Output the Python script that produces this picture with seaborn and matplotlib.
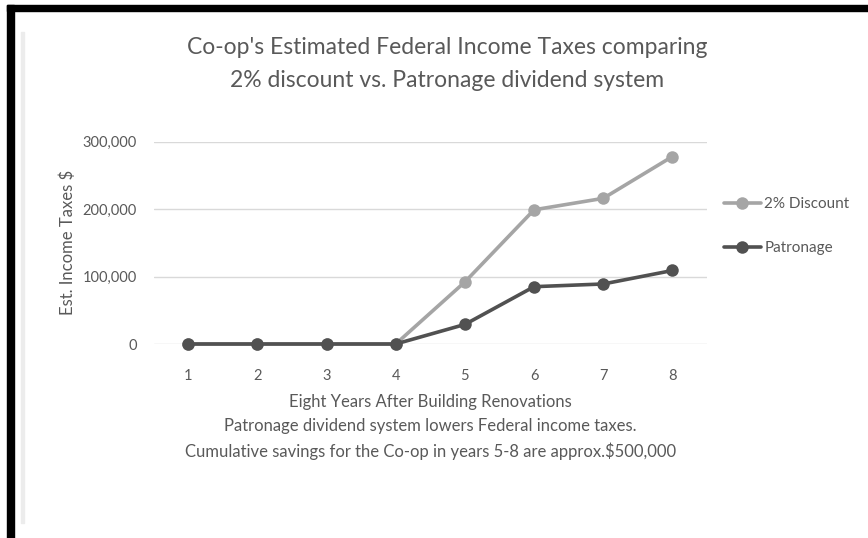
import matplotlib
matplotlib.use("Agg")
import matplotlib.pyplot as plt
import seaborn as sns
import pandas as pd
from matplotlib.patches import Rectangle
from matplotlib.lines import Line2D

years = [1, 2, 3, 4, 5, 6, 7, 8]
discount = [0, 0, 0, 0, 92000, 199000, 216000, 278000]
patronage = [0, 0, 0, 0, 29000, 85000, 89000, 109000]
series_names = ["2% Discount", "Patronage"]
y_ticks = [0, 100000, 200000, 300000]
y_tick_labels = ["0", "100,000", "200,000", "300,000"]

title = "Co-op's Estimated Federal Income Taxes comparing\n2% discount vs. Patronage dividend system"
x_label = ("Eight Years After Building Renovations\n"
           "Patronage dividend system lowers Federal income taxes.\n"
           "Cumulative savings for the Co-op in years 5-8 are approx.$500,000")
y_label = "Est. Income Taxes $"

df = pd.DataFrame({
    "Year": years * 2,
    "Tax": discount + patronage,
    "Series": [series_names[0]] * len(years) + [series_names[1]] * len(years),
})

sns.set_theme(style="white")
plt.rcParams["font.family"] = ["Lato", "DejaVu Sans"]

TXT = "#595959"
colors = {series_names[0]: "#a5a5a5", series_names[1]: "#515151"}

W, H = 868, 538
fig = plt.figure(figsize=(W / 100, H / 100), dpi=100)
fig.patch.set_facecolor("white")

left, right, top, bottom = 153.6, 707.0, 141.7, 344.0
ax = fig.add_axes([left / W, 1 - bottom / H, (right - left) / W, (bottom - top) / H])

sns.lineplot(data=df, x="Year", y="Tax", hue="Series", palette=colors,
             marker="o", markersize=9, markeredgewidth=0, linewidth=2.6,
             ax=ax, legend=False, clip_on=False, zorder=3)

ax.set_xlim(0.5, 8.5)
ax.set_ylim(0, 300000)
ax.set_xticks(years)
ax.set_xticklabels([str(y) for y in years])
ax.set_yticks(y_ticks)
ax.set_yticklabels(y_tick_labels)
ax.tick_params(axis="both", length=0, labelsize=10.5, labelcolor=TXT)
ax.tick_params(axis="x", pad=18)
ax.tick_params(axis="y", pad=12)
ax.grid(axis="y", color="#d9d9d9", linewidth=1.0)
ax.grid(axis="x", visible=False)
for s in ax.spines.values():
    s.set_visible(False)
ax.set_axisbelow(True)

ax.set_xlabel(x_label, fontsize=12, color=TXT, linespacing=1.6, labelpad=8)
ax.set_ylabel(y_label, fontsize=12, color=TXT, labelpad=5)

fig.text(447 / W, 1 - 64 / H, title, ha="center", va="center",
         fontsize=16.5, color=TXT, linespacing=1.75)

handles = [Line2D([0], [0], color=colors[n], marker="o", markersize=9,
                  markeredgewidth=0, linewidth=2.6) for n in series_names]
ax.legend(handles, series_names, loc="center left",
          bbox_to_anchor=(724 / W, 1 - 226 / H), bbox_transform=fig.transFigure,
          frameon=False, fontsize=11, labelcolor=TXT, handlelength=2.4,
          handletextpad=0.25, labelspacing=1.95, borderaxespad=0, borderpad=0)

# border decorations
fig.patches.append(Rectangle((7 / W, 1 - 11 / H), 1 - 7 / W, 6 / H,
                             transform=fig.transFigure, color="black", zorder=10))
fig.patches.append(Rectangle((7 / W, 0), 7 / W, 1 - 5 / H,
                             transform=fig.transFigure, color="black", zorder=10))
fig.patches.append(Rectangle((21 / W, 1 - 523 / H), 3 / W, (523 - 32) / H,
                             transform=fig.transFigure, color="#ececec", zorder=9))

fig.savefig("out.png", dpi=100, facecolor="white")
